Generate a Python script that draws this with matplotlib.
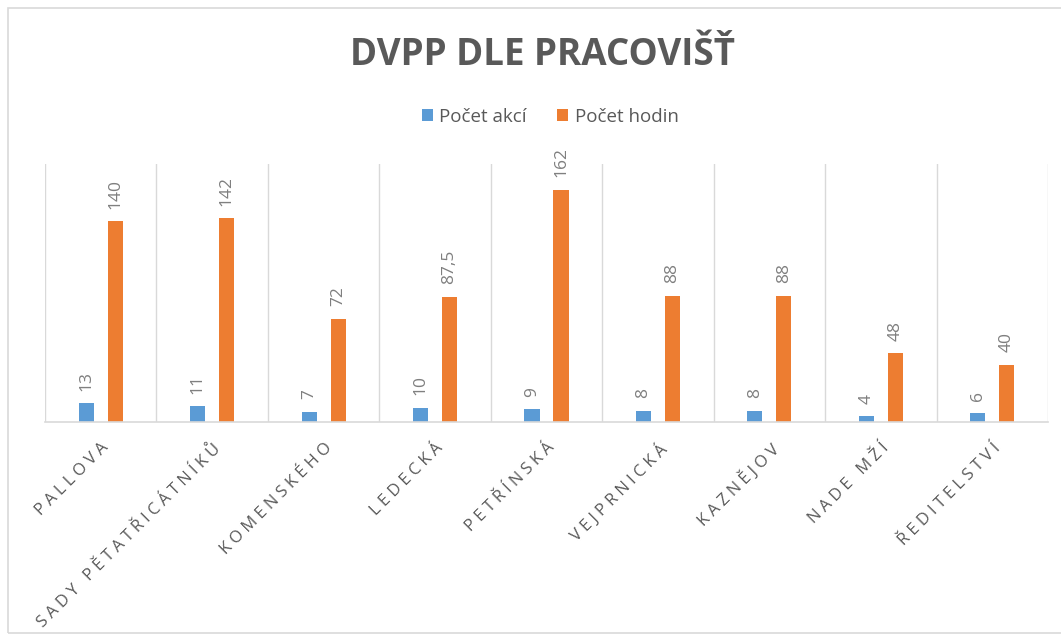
import numpy as np
import matplotlib
matplotlib.use('Agg')
from matplotlib import pyplot as plt
from matplotlib.patches import Rectangle

plt.rcParams['font.family'] = ['Open Sans', 'DejaVu Sans']

categories = ['PALLOVA', 'SADY PĚTATŘICÁTNÍKŮ', 'KOMENSKÉHO', 'LEDECKÁ', 'PETŘÍNSKÁ',
              'VEJPRNICKÁ', 'KAZNĚJOV', 'NADE MŽÍ', 'ŘEDITELSTVÍ']
akce = [13, 11, 7, 10, 9, 8, 8, 4, 6]
hodiny = [140, 142, 72, 87.5, 162, 88, 88, 48, 40]
hodiny_labels = ['140', '142', '72', '87,5', '162', '88', '88', '48', '40']

blue = '#5B9BD5'
orange = '#ED7D31'
grid_c = '#D9D9D9'
txt_c = '#595959'

def spaced(s, sep='\u2005'):
    # excel-like letter spacing
    return sep.join(s)

fig = plt.figure(figsize=(10.61, 6.37), dpi=100)
fig.patches.append(Rectangle((8/1061, 4/637), 1.2, 625/637, transform=fig.transFigure,
                             fill=False, edgecolor='#D9D9D9', lw=1.2))

ax = fig.add_axes([45/1061, 1-422/637, 1003/1061, 258/637])
x = np.arange(len(categories))
w = 0.135
b1 = ax.bar(x - 0.13, akce, w, color=blue, label='Počet akcí')
b2 = ax.bar(x + 0.13, hodiny, w, color=orange, label='Počet hodin')

ax.bar_label(b1, labels=[str(v) for v in akce], rotation=90, padding=9, color='#7F7F7F', fontsize=12.5)
ax.bar_label(b2, labels=hodiny_labels, rotation=90, padding=9, color='#7F7F7F', fontsize=12.5)

ax.set_xlim(-0.5, len(categories) - 0.5)
ax.set_ylim(0, 180)
ax.set_yticks([])
ax.set_xticks(x)
ax.set_xticklabels([spaced(c) for c in categories], rotation=45, ha='right',
                   rotation_mode='anchor', color=txt_c, fontsize=12)
ax.tick_params(axis='x', length=0, pad=13)
ax.set_xticks(np.arange(-0.5, len(categories), 1), minor=True)
ax.tick_params(axis='x', which='minor', length=0)
ax.grid(axis='x', which='minor', color=grid_c, lw=1)
ax.grid(axis='x', which='major', visible=False)
for s in ['top', 'left', 'right']:
    ax.spines[s].set_visible(False)
ax.spines['bottom'].set_color(grid_c)
ax.spines['bottom'].set_linewidth(1.2)

fig.text(542/1061, 1-55/637, 'DVPP DLE PRACOVIŠŤ', ha='center', va='center',
         fontsize=26.5, fontweight='bold', color=txt_c)

fig.legend(handles=[b1, b2], loc='center', bbox_to_anchor=(550/1061, 1-117/637), ncol=2,
           frameon=False, fontsize=13.5, handlelength=0.6, handleheight=0.6,
           handletextpad=0.35, columnspacing=1.6, labelcolor=txt_c)

fig.savefig('out.png', dpi=100)
